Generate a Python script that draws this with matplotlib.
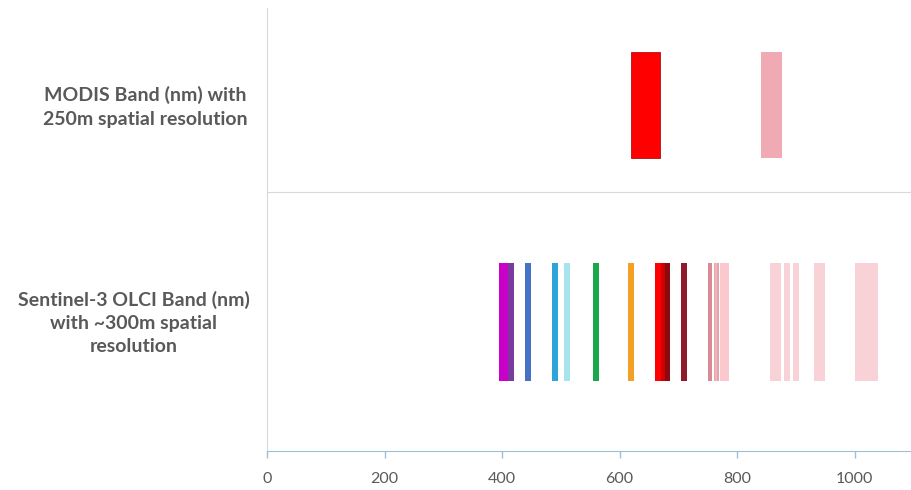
import matplotlib.pyplot as plt

plt.rcParams['font.family'] = ['Lato', 'DejaVu Sans']

# == DATOS ==
modis_label = "MODIS Band (nm) with\n250m spatial resolution"
olci_label = "Sentinel-3 OLCI Band (nm)\nwith ~300m spatial\nresolution"

# MODIS 250m: inicio y fin de banda (nm)
modis_start = [620, 841]
modis_end = [668, 876]
modis_colors = ["#FF0000", "#F0AAB3"]

# OLCI: inicio y fin de banda (nm)
olci_start = [395, 410, 439, 485, 505, 555, 615, 660, 670, 677.5, 703.75,
              750, 760, 762.5, 766.25, 771.25, 855, 880, 895, 930, 1000]
olci_end = [410, 421, 449, 495, 515, 565, 625, 670, 677.5, 685, 713.75,
            757.5, 762.5, 766.25, 768.75, 786.25, 875, 890, 905, 950, 1040]
olci_colors = ["#C800C8", "#7A3A9E", "#4472C4", "#2EA5D8", "#A8E4EE", "#1BA84C",
               "#F4A024", "#FF0000", "#D00000", "#8A0A10", "#8E1B2C",
               "#D98A95", "#E8A3AC", "#F2B4BB", "#E4A2AA", "#FAC8CD",
               "#F8D2D6", "#F8D2D6", "#F8D2D6", "#F8D2D6", "#F8D2D6"]

xticks = [0, 200, 400, 600, 800, 1000]

# == FIGURA ==
fig = plt.figure(figsize=(9.11, 4.90), dpi=100)
ax_top = fig.add_axes([0.293, 0.608, 0.706, 0.376])
ax_bot = fig.add_axes([0.293, 0.0796, 0.706, 0.5284])

grey_line = "#D9D9D9"
txt = "#595959"

for ax in (ax_top, ax_bot):
    ax.set_xlim(0, 1094)
    ax.set_ylim(0, 1)
    ax.set_yticks([])
    for s in ("top", "right", "bottom"):
        ax.spines[s].set_visible(False)
    ax.spines["left"].set_color(grey_line)

# Panel MODIS
ax_top.set_xticks([])
ax_top.bar([(a + b) / 2 for a, b in zip(modis_start, modis_end)],
           [0.576, 0.576],
           width=[b - a for a, b in zip(modis_start, modis_end)],
           bottom=0.185, color=modis_colors, edgecolor=["#B01010", "none"], linewidth=0.6)

# Panel OLCI
ax_bot.bar([(a + b) / 2 for a, b in zip(olci_start, olci_end)],
           [0.456] * len(olci_start),
           width=[b - a for a, b in zip(olci_start, olci_end)],
           bottom=0.27, color=olci_colors, linewidth=0)
ax_bot.spines["top"].set_visible(True)
ax_bot.spines["top"].set_color(grey_line)
ax_bot.spines["bottom"].set_visible(True)
ax_bot.spines["bottom"].set_color("#9EBFD8")
ax_bot.set_xticks(xticks)
ax_bot.tick_params(axis="x", colors="#9EBFD8", length=5, width=1, labelcolor=txt,
                   labelsize=11.5, pad=10)

# Etiquetas de categorias
fig.text(0.159, 1 - 107 / 490, modis_label, ha="center", va="center", fontsize=14,
         fontweight="bold", color=txt, linespacing=1.55)
fig.text(0.1466, 1 - 323 / 490, olci_label, ha="center", va="center", fontsize=14,
         fontweight="bold", color=txt, linespacing=1.45)

fig.savefig("out.png", dpi=100)
